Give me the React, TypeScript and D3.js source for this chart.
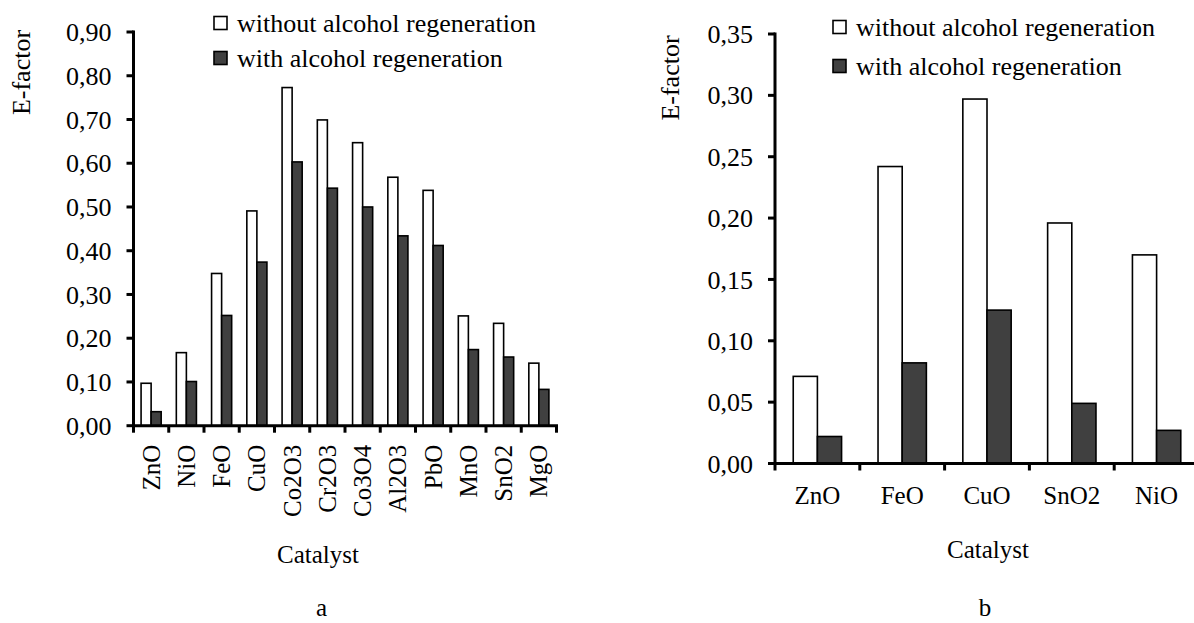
import React from "react";
import * as d3 from "d3";

// Panel a: E-factor of the twelve catalysts
const catalystsA = ["ZnO", "NiO", "FeO", "CuO", "Co2O3", "Cr2O3", "Co3O4", "Al2O3", "PbO", "MnO", "SnO2", "MgO"];
const withoutRegenA = [0.097, 0.167, 0.348, 0.491, 0.773, 0.699, 0.647, 0.568, 0.538, 0.251, 0.234, 0.143];
const withRegenA = [0.032, 0.101, 0.252, 0.374, 0.603, 0.543, 0.500, 0.434, 0.412, 0.174, 0.157, 0.083];
const ticksA = [0, 0.1, 0.2, 0.3, 0.4, 0.5, 0.6, 0.7, 0.8, 0.9];

// Panel b: E-factor of the five selected catalysts
const catalystsB = ["ZnO", "FeO", "CuO", "SnO2", "NiO"];
const withoutRegenB = [0.071, 0.242, 0.297, 0.196, 0.170];
const withRegenB = [0.022, 0.082, 0.125, 0.049, 0.027];
const ticksB = [0, 0.05, 0.1, 0.15, 0.2, 0.25, 0.3, 0.35];

const seriesNames = ["without alcohol regeneration", "with alcohol regeneration"];
const seriesKeys = ["without", "with"];

const FONT = "'Liberation Serif', 'Times New Roman', serif";
const DARK = "#404040";
const fmt = (v: number) => d3.format(".2f")(v).replace(".", ",");

type PanelProps = {
  categories: string[];
  without: number[];
  withR: number[];
  ticks: number[];
  x0: number;
  x1: number;
  yTop: number;
  yBottom: number;
  rotateLabels: boolean;
  yLabelX: number;
  yLabelY: number;
  legendX: number;
  legendY: number[];
  catalystX: number;
  catalystY: number;
  letter: string;
  letterX: number;
  letterY: number;
};

function Panel(p: PanelProps) {
  const x = d3.scaleBand<string>().domain(p.categories).range([p.x0, p.x1]).padding(0);
  const bw = x.bandwidth();
  const inner = d3
    .scaleBand<string>()
    .domain(seriesKeys)
    .range([bw * 0.215, bw * 0.785])
    .padding(0);
  const y = d3
    .scaleLinear()
    .domain([0, p.ticks[p.ticks.length - 1]])
    .range([p.yBottom, p.yTop]);
  const rows = p.categories.map((c, i) => ({ c, without: p.without[i], with: p.withR[i] }));
  const boundaries = p.categories.map((c) => x(c) as number).concat([p.x1]);

  return (
    <g fontFamily={FONT} fill="#000">
      {/* bars */}
      {rows.map((r) =>
        seriesKeys.map((k) => {
          const v = (r as any)[k] as number;
          return (
            <rect
              key={r.c + k}
              x={(x(r.c) as number) + (inner(k) as number)}
              y={y(v)}
              width={inner.bandwidth()}
              height={y(0) - y(v)}
              fill={k === "without" ? "#fff" : DARK}
              stroke="#000"
              strokeWidth={1.6}
            />
          );
        })
      )}

      {/* y axis */}
      <line x1={p.x0} x2={p.x0} y1={y(p.ticks[p.ticks.length - 1]) - 1.5} y2={y(0) + 1.5} stroke="#000" strokeWidth={3} />
      {p.ticks.map((t) => (
        <g key={t}>
          <line x1={p.x0 - 7} x2={p.x0} y1={y(t)} y2={y(t)} stroke="#000" strokeWidth={3} />
          <text x={p.x0 - 22} y={y(t)} dy="0.35em" textAnchor="end" fontSize={26}>
            {fmt(t)}
          </text>
        </g>
      ))}

      {/* x axis */}
      <line x1={p.x0 - 1.5} x2={p.x1 + 1.5} y1={y(0)} y2={y(0)} stroke="#000" strokeWidth={3} />
      {boundaries.map((b, i) => (
        <line key={i} x1={b} x2={b} y1={y(0)} y2={y(0) + 7} stroke="#000" strokeWidth={3} />
      ))}
      {p.categories.map((c) => {
        const cx = (x(c) as number) + bw / 2;
        return p.rotateLabels ? (
          <text
            key={c}
            transform={`translate(${cx + 8.5},${y(0) + 19}) rotate(-90)`}
            textAnchor="end"
            fontSize={25}
          >
            {c}
          </text>
        ) : (
          <text key={c} x={cx} y={y(0) + 40} textAnchor="middle" fontSize={25}>
            {c}
          </text>
        );
      })}

      {/* axis titles */}
      <text transform={`translate(${p.yLabelX},${p.yLabelY}) rotate(-90)`} textAnchor="middle" fontSize={26}>
        E-factor
      </text>
      <text x={p.catalystX} y={p.catalystY} textAnchor="middle" fontSize={25}>
        Catalyst
      </text>
      <text x={p.letterX} y={p.letterY} textAnchor="middle" fontSize={25}>
        {p.letter}
      </text>

      {/* legend */}
      {seriesNames.map((name, i) => (
        <g key={name}>
          <rect
            x={p.legendX}
            y={p.legendY[i] - 15}
            width={13}
            height={13}
            fill={i === 0 ? "#fff" : DARK}
            stroke="#000"
            strokeWidth={1.6}
          />
          <text x={p.legendX + 23} y={p.legendY[i]} fontSize={26}>
            {name}
          </text>
        </g>
      ))}
    </g>
  );
}

export default function App() {
  return (
    <svg
      width={1194}
      height={623}
      style={{ position: "absolute", left: 0, top: 0, background: "#fff" }}
    >
      <rect width={1194} height={623} fill="#fff" />
      <Panel
        categories={catalystsA}
        without={withoutRegenA}
        withR={withRegenA}
        ticks={ticksA}
        x0={133.5}
        x1={556.5}
        yTop={32}
        yBottom={425.7}
        rotateLabels={true}
        yLabelX={30}
        yLabelY={72.5}
        legendX={214}
        legendY={[31.5, 66.5]}
        catalystX={318}
        catalystY={563}
        letter="a"
        letterX={321.5}
        letterY={616}
      />
      <Panel
        categories={catalystsB}
        without={withoutRegenB}
        withR={withRegenB}
        ticks={ticksB}
        x0={775}
        x1={1199}
        yTop={34}
        yBottom={463.5}
        rotateLabels={false}
        yLabelX={679}
        yLabelY={78}
        legendX={833}
        legendY={[35.5, 74.5]}
        catalystX={988}
        catalystY={558}
        letter="b"
        letterX={985}
        letterY={616}
      />
    </svg>
  );
}
